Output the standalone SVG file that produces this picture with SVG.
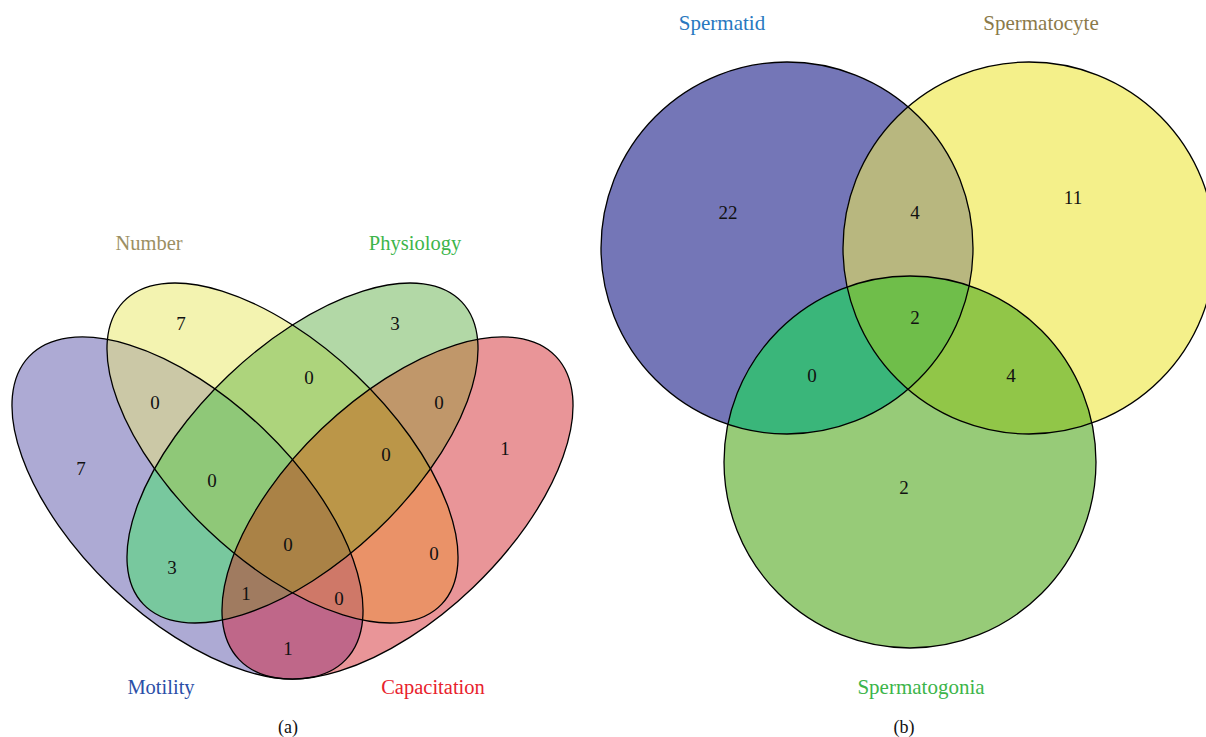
<svg xmlns="http://www.w3.org/2000/svg" xmlns:xlink="http://www.w3.org/1999/xlink" width="1206" height="737" viewBox="0 0 1206 737">
<style>
.o{fill:none;stroke:#000;stroke-width:1.3}
.lab{font-family:"Liberation Serif","Times New Roman",serif;font-size:20.5px;text-anchor:middle}
.num{font-family:"Liberation Serif","Times New Roman",serif;font-size:19px;text-anchor:middle;fill:#111}
.cap{font-family:"Liberation Serif","Times New Roman",serif;font-size:18px;text-anchor:middle;fill:#111}
</style>
<defs>
<ellipse id="eM" cx="187.5" cy="508" rx="219.2" ry="109.6" transform="rotate(43.76 187.5 508)"/>
<ellipse id="eN" cx="282.5" cy="453" rx="219.5" ry="107.3" transform="rotate(43.5 282.5 453)"/>
<ellipse id="eP" cx="302.5" cy="453" rx="219.5" ry="107.3" transform="rotate(-43.5 302.5 453)"/>
<ellipse id="eC" cx="397.5" cy="508" rx="219.2" ry="109.6" transform="rotate(-43.76 397.5 508)"/>
<clipPath id="cM"><use xlink:href="#eM" href="#eM"/></clipPath>
<clipPath id="cN"><use xlink:href="#eN" href="#eN"/></clipPath>
<clipPath id="cP"><use xlink:href="#eP" href="#eP"/></clipPath>
<clipPath id="cMN" clip-path="url(#cM)"><use xlink:href="#eN" href="#eN"/></clipPath>
<clipPath id="cMP" clip-path="url(#cM)"><use xlink:href="#eP" href="#eP"/></clipPath>
<clipPath id="cNP" clip-path="url(#cN)"><use xlink:href="#eP" href="#eP"/></clipPath>
<clipPath id="cMNP" clip-path="url(#cMN)"><use xlink:href="#eP" href="#eP"/></clipPath>
<circle id="s1" cx="787" cy="248" r="186"/>
<circle id="s2" cx="1029" cy="248" r="186"/>
<circle id="s3" cx="910" cy="462" r="186"/>
<clipPath id="k1"><use xlink:href="#s1" href="#s1"/></clipPath>
<clipPath id="k2"><use xlink:href="#s2" href="#s2"/></clipPath>
<clipPath id="k12" clip-path="url(#k1)"><use xlink:href="#s2" href="#s2"/></clipPath>
</defs>
<rect width="1206" height="737" fill="#fff"/>

<g id="regions-a">
<use href="#eM" fill="#adaad4"/>
<use href="#eN" fill="#f3f3b0"/>
<use href="#eP" fill="#b2d8a6"/>
<use href="#eC" fill="#e99598"/>
<use href="#eN" fill="#cbc8a6" clip-path="url(#cM)"/>
<use href="#eP" fill="#78c89e" clip-path="url(#cM)"/>
<use href="#eC" fill="#bf6789" clip-path="url(#cM)"/>
<use href="#eP" fill="#add47c" clip-path="url(#cN)"/>
<use href="#eC" fill="#ea9268" clip-path="url(#cN)"/>
<use href="#eC" fill="#c0976a" clip-path="url(#cP)"/>
<use href="#eP" fill="#8fc878" clip-path="url(#cMN)"/>
<use href="#eC" fill="#cf7868" clip-path="url(#cMN)"/>
<use href="#eC" fill="#a07b60" clip-path="url(#cMP)"/>
<use href="#eC" fill="#bb9648" clip-path="url(#cNP)"/>
<use href="#eC" fill="#aa8246" clip-path="url(#cMNP)"/>
</g>

<g id="set-motility">
<use href="#eM" class="o"/>
<text class="lab" x="161" y="694" fill="#2b4fa8">Motility</text>
</g>
<g id="set-number">
<use href="#eN" class="o"/>
<text class="lab" x="149" y="250" fill="#9c8f63">Number</text>
</g>
<g id="set-physiology">
<use href="#eP" class="o"/>
<text class="lab" x="415" y="250" fill="#3cb54a">Physiology</text>
</g>
<g id="set-capacitation">
<use href="#eC" class="o"/>
<text class="lab" x="433" y="694" fill="#e8222c">Capacitation</text>
</g>

<g id="counts-a">
<text class="num" x="81" y="475">7</text>
<text class="num" x="181" y="330">7</text>
<text class="num" x="395" y="330">3</text>
<text class="num" x="505" y="455">1</text>
<text class="num" x="155" y="409">0</text>
<text class="num" x="309" y="384">0</text>
<text class="num" x="439" y="409">0</text>
<text class="num" x="212" y="487">0</text>
<text class="num" x="386" y="461">0</text>
<text class="num" x="288" y="551">0</text>
<text class="num" x="172" y="574">3</text>
<text class="num" x="434" y="560">0</text>
<text class="num" x="246" y="600">1</text>
<text class="num" x="339" y="605">0</text>
<text class="num" x="288" y="655">1</text>
</g>
<text class="cap" x="288" y="733">(a)</text>

<g id="regions-b">
<use href="#s1" fill="#7476b7"/>
<use href="#s2" fill="#f4f08a"/>
<use href="#s3" fill="#97cb78"/>
<use href="#s2" fill="#b8b77f" clip-path="url(#k1)"/>
<use href="#s3" fill="#3ab67a" clip-path="url(#k1)"/>
<use href="#s3" fill="#91c648" clip-path="url(#k2)"/>
<use href="#s3" fill="#6fbe4a" clip-path="url(#k12)"/>
</g>
<g id="set-spermatid">
<use href="#s1" class="o"/>
<text class="lab" x="722" y="30" fill="#2878c0" style="font-size:21px">Spermatid</text>
</g>
<g id="set-spermatocyte">
<use href="#s2" class="o"/>
<text class="lab" x="1041" y="30" fill="#8b7a4a" style="font-size:21px">Spermatocyte</text>
</g>
<g id="set-spermatogonia">
<use href="#s3" class="o"/>
<text class="lab" x="921" y="694" fill="#3cb54a" style="font-size:21px">Spermatogonia</text>
</g>
<g id="counts-b">
<text class="num" x="728" y="219">22</text>
<text class="num" x="915" y="219">4</text>
<text class="num" x="1073" y="204">11</text>
<text class="num" x="915" y="324">2</text>
<text class="num" x="812" y="382">0</text>
<text class="num" x="1011" y="382">4</text>
<text class="num" x="904" y="494">2</text>
</g>
<text class="cap" x="904" y="733">(b)</text>
</svg>
